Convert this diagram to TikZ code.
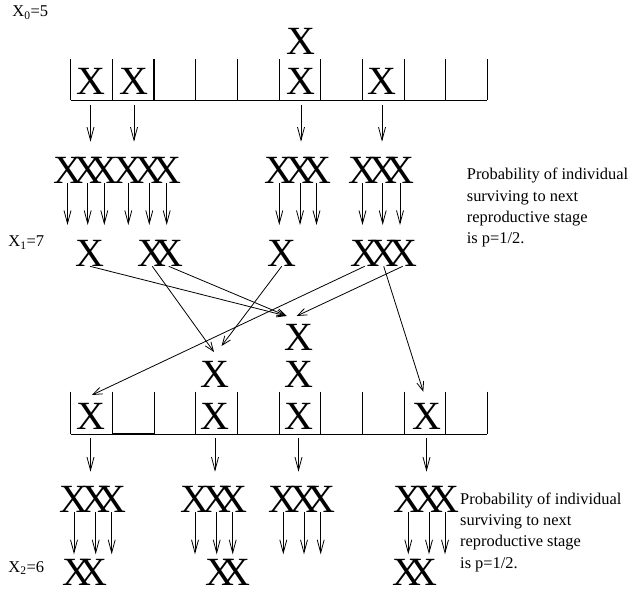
\documentclass[tikz,border=0pt]{standalone}
\usepackage{fontspec}
\setmainfont{Liberation Serif}
\usetikzlibrary{arrows.meta,calc}
\begin{document}
\begin{tikzpicture}[x=1pt,y=-1pt,
  xx/.style={inner sep=0pt, font=\fontsize{40}{40}\selectfont},
  lbl/.style={inner sep=0pt, anchor=base west, font=\fontsize{16.5}{20}\selectfont},
  note/.style={inner sep=0pt, anchor=north west, align=left, font=\fontsize{16.4}{21.3}\selectfont},
  cellline/.style={line width=0.8pt},
  heavy/.style={line width=1.6pt},
  varr/.style={line width=0.8pt, -{Straight Barb[length=13pt,width=7pt]}},
  carr/.style={line width=0.8pt, -{Straight Barb[length=9pt,width=7pt]}},
]
\useasboundingbox (0,0) rectangle (631,593);

% ---- top grid
\foreach \i in {0,...,10} \draw[cellline] ({70.7+41.66*\i},59.3) -- ({70.7+41.66*\i},100);
\draw[cellline] (70.7,100) -- (487.3,100);
\draw[heavy] (154,59.3) -- (154,100);

\node[lbl] (l0) at (12.3,16.7) {X\textsubscript{0}=5};

\node[xx] (t1) at (90.5,81) {X};
\node[xx] (t2) at (134,81) {X};
\node[xx] (t6) at (301,81) {X};
\node[xx] (t6b) at (301,41.7) {X};
\node[xx] (t8) at (382,81) {X};

% ---- first clusters
\node[xx] (c11) at (67.5,170) {X};
\node[xx] (c12) at (87.7,170) {X};
\node[xx] (c13) at (104.3,170) {X};
\node[xx] (c21) at (128.3,170) {X};
\node[xx] (c22) at (149.3,170) {X};
\node[xx] (c23) at (166.7,170) {X};
\node[xx] (c31) at (279.3,170) {X};
\node[xx] (c32) at (300,170) {X};
\node[xx] (c33) at (316.5,170) {X};
\node[xx] (c41) at (362.5,170) {X};
\node[xx] (c42) at (382.7,170) {X};
\node[xx] (c43) at (400,170) {X};

\foreach \a/\b in {t1/c12,t2/c22,t6/c32,t8/c42}
  \draw[varr, shorten <=10.7pt, shorten >=15pt] (\a.south) -- (\a.south |- \b.north);

\foreach \c in {c11,c12,c13,c21,c22,c23,c31,c32,c33,c41,c42,c43}
  \draw[varr] (\c.south) -- ++(0,41.7);

% ---- X1 row
\node[lbl] (l1) at (8.3,246.7) {X\textsubscript{1}=7};
\node[xx] (xa) at (90,253) {X};
\node[xx] (xb1) at (152.3,253) {X};
\node[xx] (xb2) at (168.7,253) {X};
\node[xx] (xc) at (281.7,253) {X};
\node[xx] (xd1) at (364.7,253) {X};
\node[xx] (xd2) at (383.7,253) {X};
\node[xx] (xd3) at (402.7,253) {X};

% ---- middle stacks
\node[xx] (m1) at (298.5,337) {X};
\node[xx] (m2) at (298.5,374) {X};
\node[xx] (m4) at (215,374) {X};

% ---- bottom grid
\foreach \i in {0,...,10} \draw[cellline] ({70.7+41.66*\i},391.7) -- ({70.7+41.66*\i},434);
\draw[cellline] (70.7,434) -- (487.3,434);
\draw[heavy] (112.7,434) -- (154,434);

\node[xx] (b1) at (90.5,416) {X};
\node[xx] (b4) at (215,416) {X};
\node[xx] (b6) at (298.5,416) {X};
\node[xx] (b9) at (426.5,416) {X};

% ---- crossing arrows
\draw[carr] (xa.south) -- ($(m1.north)+(-11.8,-7.7)$);
\draw[carr] (xb2.south) -- ($(m1.north)+(-11.8,-7.7)$);
\draw[carr] (xd3.south) -- ($(m1.north)+(-1.8,-7.7)$);
\draw[carr] (xb1.south) -- ($(m4.north)+(-1,-8.7)$);
\draw[carr] (xc.south) -- ($(m4.north)+(6.5,-14.7)$);
\draw[carr] (xd1.south) -- ($(b1.north)+(1.5,-7.7)$);
\draw[carr] (xd2.south) -- ($(b9.north)+(-3.2,-11)$);

% ---- second clusters
\node[xx] (d11) at (74,499) {X};
\node[xx] (d12) at (95.7,499) {X};
\node[xx] (d13) at (111.7,499) {X};
\node[xx] (d21) at (195,499) {X};
\node[xx] (d22) at (216.7,499) {X};
\node[xx] (d23) at (232.7,499) {X};
\node[xx] (d31) at (283.3,499) {X};
\node[xx] (d32) at (304,499) {X};
\node[xx] (d33) at (320.7,499) {X};
\node[xx] (d41) at (408.3,499) {X};
\node[xx] (d42) at (429,499) {X};
\node[xx] (d43) at (445,499) {X};

\foreach \a/\b in {b1/d12,b4/d22,b6/d32,b9/d42}
  \draw[varr, shorten <=8.7pt, shorten >=14pt] (\a.south) -- (\a.south |- \b.north);

\foreach \c in {d11,d12,d13,d21,d22,d23,d31,d32,d33,d41,d42,d43}
  \draw[varr] (\c.south) -- ++(0,42);

% ---- X2 row
\node[lbl] (l2) at (8.3,572) {X\textsubscript{2}=6};
\node[xx] (e11) at (77.3,572.5) {X};
\node[xx] (e12) at (93,572.5) {X};
\node[xx] (e21) at (219.5,572.5) {X};
\node[xx] (e22) at (235.5,572.5) {X};
\node[xx] (e41) at (407,572.5) {X};
\node[xx] (e42) at (423,572.5) {X};

% ---- notes
\node[note] (n1) at (466.7,168) {Probability of individual\\surviving to next\\reproductive stage\\is p=1/2.};
\node[note] (n2) at (460,492.5) {Probability of individual\\surviving to next\\reproductive stage\\is p=1/2.};
\end{tikzpicture}
\end{document}
